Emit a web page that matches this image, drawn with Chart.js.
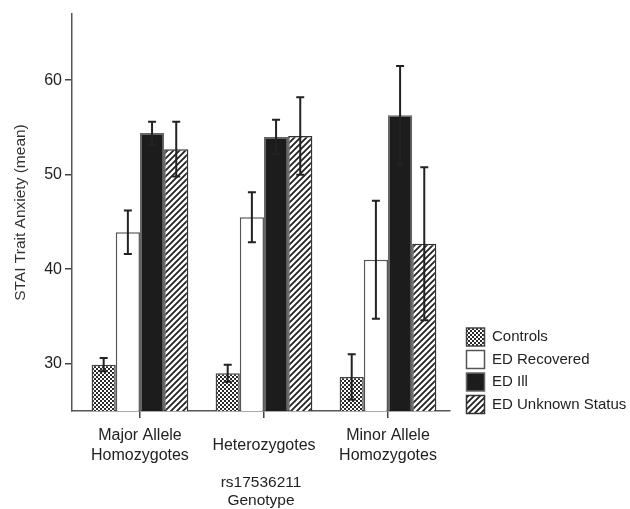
<!DOCTYPE html>
<html>
<head>
<meta charset="utf-8">
<script src="https://cdn.jsdelivr.net/npm/chart.js@4/dist/chart.umd.min.js"></script>
<style>
  body { margin: 0; background: #fff; }
  #wrap { width: 630px; height: 509px; }
</style>
</head>
<body>
<div id="wrap"><canvas id="chart" width="630" height="509"></canvas></div>
<script>
// genotype groups
const categories = [['Major Allele', 'Homozygotes'], 'Heterozygotes', ['Minor Allele', 'Homozygotes']];
const seriesNames = ['Controls', 'ED Recovered', 'ED Ill', 'ED Unknown Status'];

// mean STAI trait anxiety and error bar half-widths
const controls = [29.9, 29.0, 28.6];
const controlsErr = [0.7, 0.9, 2.4];
const recovered = [43.9, 45.5, 41.0];
const recoveredErr = [2.3, 2.65, 6.25];
const ill = [54.4, 54.0, 56.3];
const illErr = [1.2, 1.8, 5.2];
const unknown = [52.7, 54.1, 42.7];
const unknownErr = [2.9, 4.1, 8.1];

const yTicks = [30, 40, 50, 60];

const FONT = 'Liberation Sans, Arial, Helvetica, sans-serif';

function makePattern(w, h, draw) {
  const c = document.createElement('canvas');
  c.width = w;
  c.height = h;
  const g = c.getContext('2d');
  draw(g);
  return g.createPattern(c, 'repeat');
}

const checker = makePattern(4, 4, g => {
  g.fillStyle = '#fff';
  g.fillRect(0, 0, 4, 4);
  g.fillStyle = '#2a2a2a';
  g.fillRect(0, 0, 2, 2);
  g.fillRect(2, 2, 2, 2);
});

const hatch = makePattern(6, 6, g => {
  g.fillStyle = '#fff';
  g.fillRect(0, 0, 6, 6);
  g.strokeStyle = '#222';
  g.lineWidth = 1.8;
  g.beginPath();
  g.moveTo(0, 6); g.lineTo(6, 0);
  g.moveTo(-1, 1); g.lineTo(1, -1);
  g.moveTo(5, 7); g.lineTo(7, 5);
  g.stroke();
});

const toPoints = arr => arr.map((v, i) => ({ x: i, y: v }));

// draws the error bars on top of every bar
const errorBars = {
  id: 'errorBars',
  afterDatasetsDraw(chart) {
    const ctx = chart.ctx;
    const yScale = chart.scales.y;
    ctx.save();
    ctx.strokeStyle = '#222';
    ctx.lineWidth = 2;
    chart.data.datasets.forEach((ds, i) => {
      const meta = chart.getDatasetMeta(i);
      meta.data.forEach((bar, j) => {
        const v = ds.data[j].y;
        const e = ds.errors[j];
        const top = yScale.getPixelForValue(v + e);
        const bot = yScale.getPixelForValue(v - e);
        const x = bar.x;
        ctx.beginPath();
        ctx.moveTo(x, top); ctx.lineTo(x, bot);
        ctx.moveTo(x - 4, top); ctx.lineTo(x + 4, top);
        ctx.moveTo(x - 4, bot); ctx.lineTo(x + 4, bot);
        ctx.stroke();
      });
    });
    ctx.restore();
  }
};

// legend sits a little lower than the chart area bottom in the original
const legendNudge = {
  id: 'legendNudge',
  afterLayout(chart) {
    if (chart.legend) {
      chart.legend.top += 7;
      chart.legend.bottom += 7;
    }
  }
};

new Chart(document.getElementById('chart'), {
  type: 'bar',
  data: {
    datasets: [
      { label: seriesNames[0], data: toPoints(controls), errors: controlsErr,
        backgroundColor: checker, borderColor: '#444', borderWidth: 1.5 },
      { label: seriesNames[1], data: toPoints(recovered), errors: recoveredErr,
        backgroundColor: '#fff', borderColor: '#555', borderWidth: 1.5 },
      { label: seriesNames[2], data: toPoints(ill), errors: illErr,
        backgroundColor: '#1c1c1c', borderColor: '#666', borderWidth: 1.5 },
      { label: seriesNames[3], data: toPoints(unknown), errors: unknownErr,
        backgroundColor: hatch, borderColor: '#333', borderWidth: 1.5 }
    ]
  },
  options: {
    responsive: false,
    animation: false,
    layout: { padding: { top: 14, right: 0, bottom: 0, left: 0 } },
    categoryPercentage: 0.78,
    barPercentage: 1,
    scales: {
      x: {
        type: 'linear',
        min: -0.548,
        max: 2.5,
        offset: false,
        afterBuildTicks: s => { s.ticks = categories.map((_, i) => ({ value: i })); },
        afterFit: s => { s.height = 98; },
        grid: { display: true, drawOnChartArea: false, offset: false, tickLength: 7, color: '#444', lineWidth: 1.5 },
        border: { display: true, color: '#555', width: 1.5 },
        ticks: {
          callback: v => categories[v],
          color: '#222',
          padding: 18,
          maxRotation: 0,
          autoSkip: false,
          crossAlign: 'center',
          font: { family: FONT, size: 16, lineHeight: 1.2 }
        },
        title: {
          display: true,
          text: ['rs17536211', 'Genotype'],
          color: '#222',
          padding: { top: 0, bottom: 0 },
          font: { family: FONT, size: 15.5, lineHeight: 1.13 }
        }
      },
      y: {
        min: 25,
        max: 67,
        afterBuildTicks: s => { s.ticks = yTicks.map(v => ({ value: v })); },
        afterFit: s => { s.width = 72; },
        grid: { display: true, drawOnChartArea: false, tickLength: 7, color: '#444', lineWidth: 1.5 },
        border: { display: true, color: '#555', width: 1.5 },
        ticks: {
          color: '#222',
          padding: 3,
          font: { family: FONT, size: 16 }
        },
        title: {
          display: true,
          text: 'STAI Trait Anxiety (mean)',
          color: '#333',
          padding: { top: 11, bottom: 0 },
          font: { family: FONT, size: 15.5 }
        }
      },
      gap: {
        type: 'linear',
        position: 'right',
        display: true,
        afterFit: s => { s.width = 12; },
        grid: { display: false },
        border: { display: false },
        ticks: { display: false }
      }
    },
    plugins: {
      legend: {
        position: 'right',
        align: 'end',
        fullSize: false,
        maxWidth: 168,
        labels: {
          boxWidth: 18,
          boxHeight: 18,
          padding: 4.5,
          color: '#222',
          font: { family: FONT, size: 15 }
        }
      },
      tooltip: { enabled: false }
    }
  },
  plugins: [errorBars, legendNudge]
});
</script>
</body>
</html>
